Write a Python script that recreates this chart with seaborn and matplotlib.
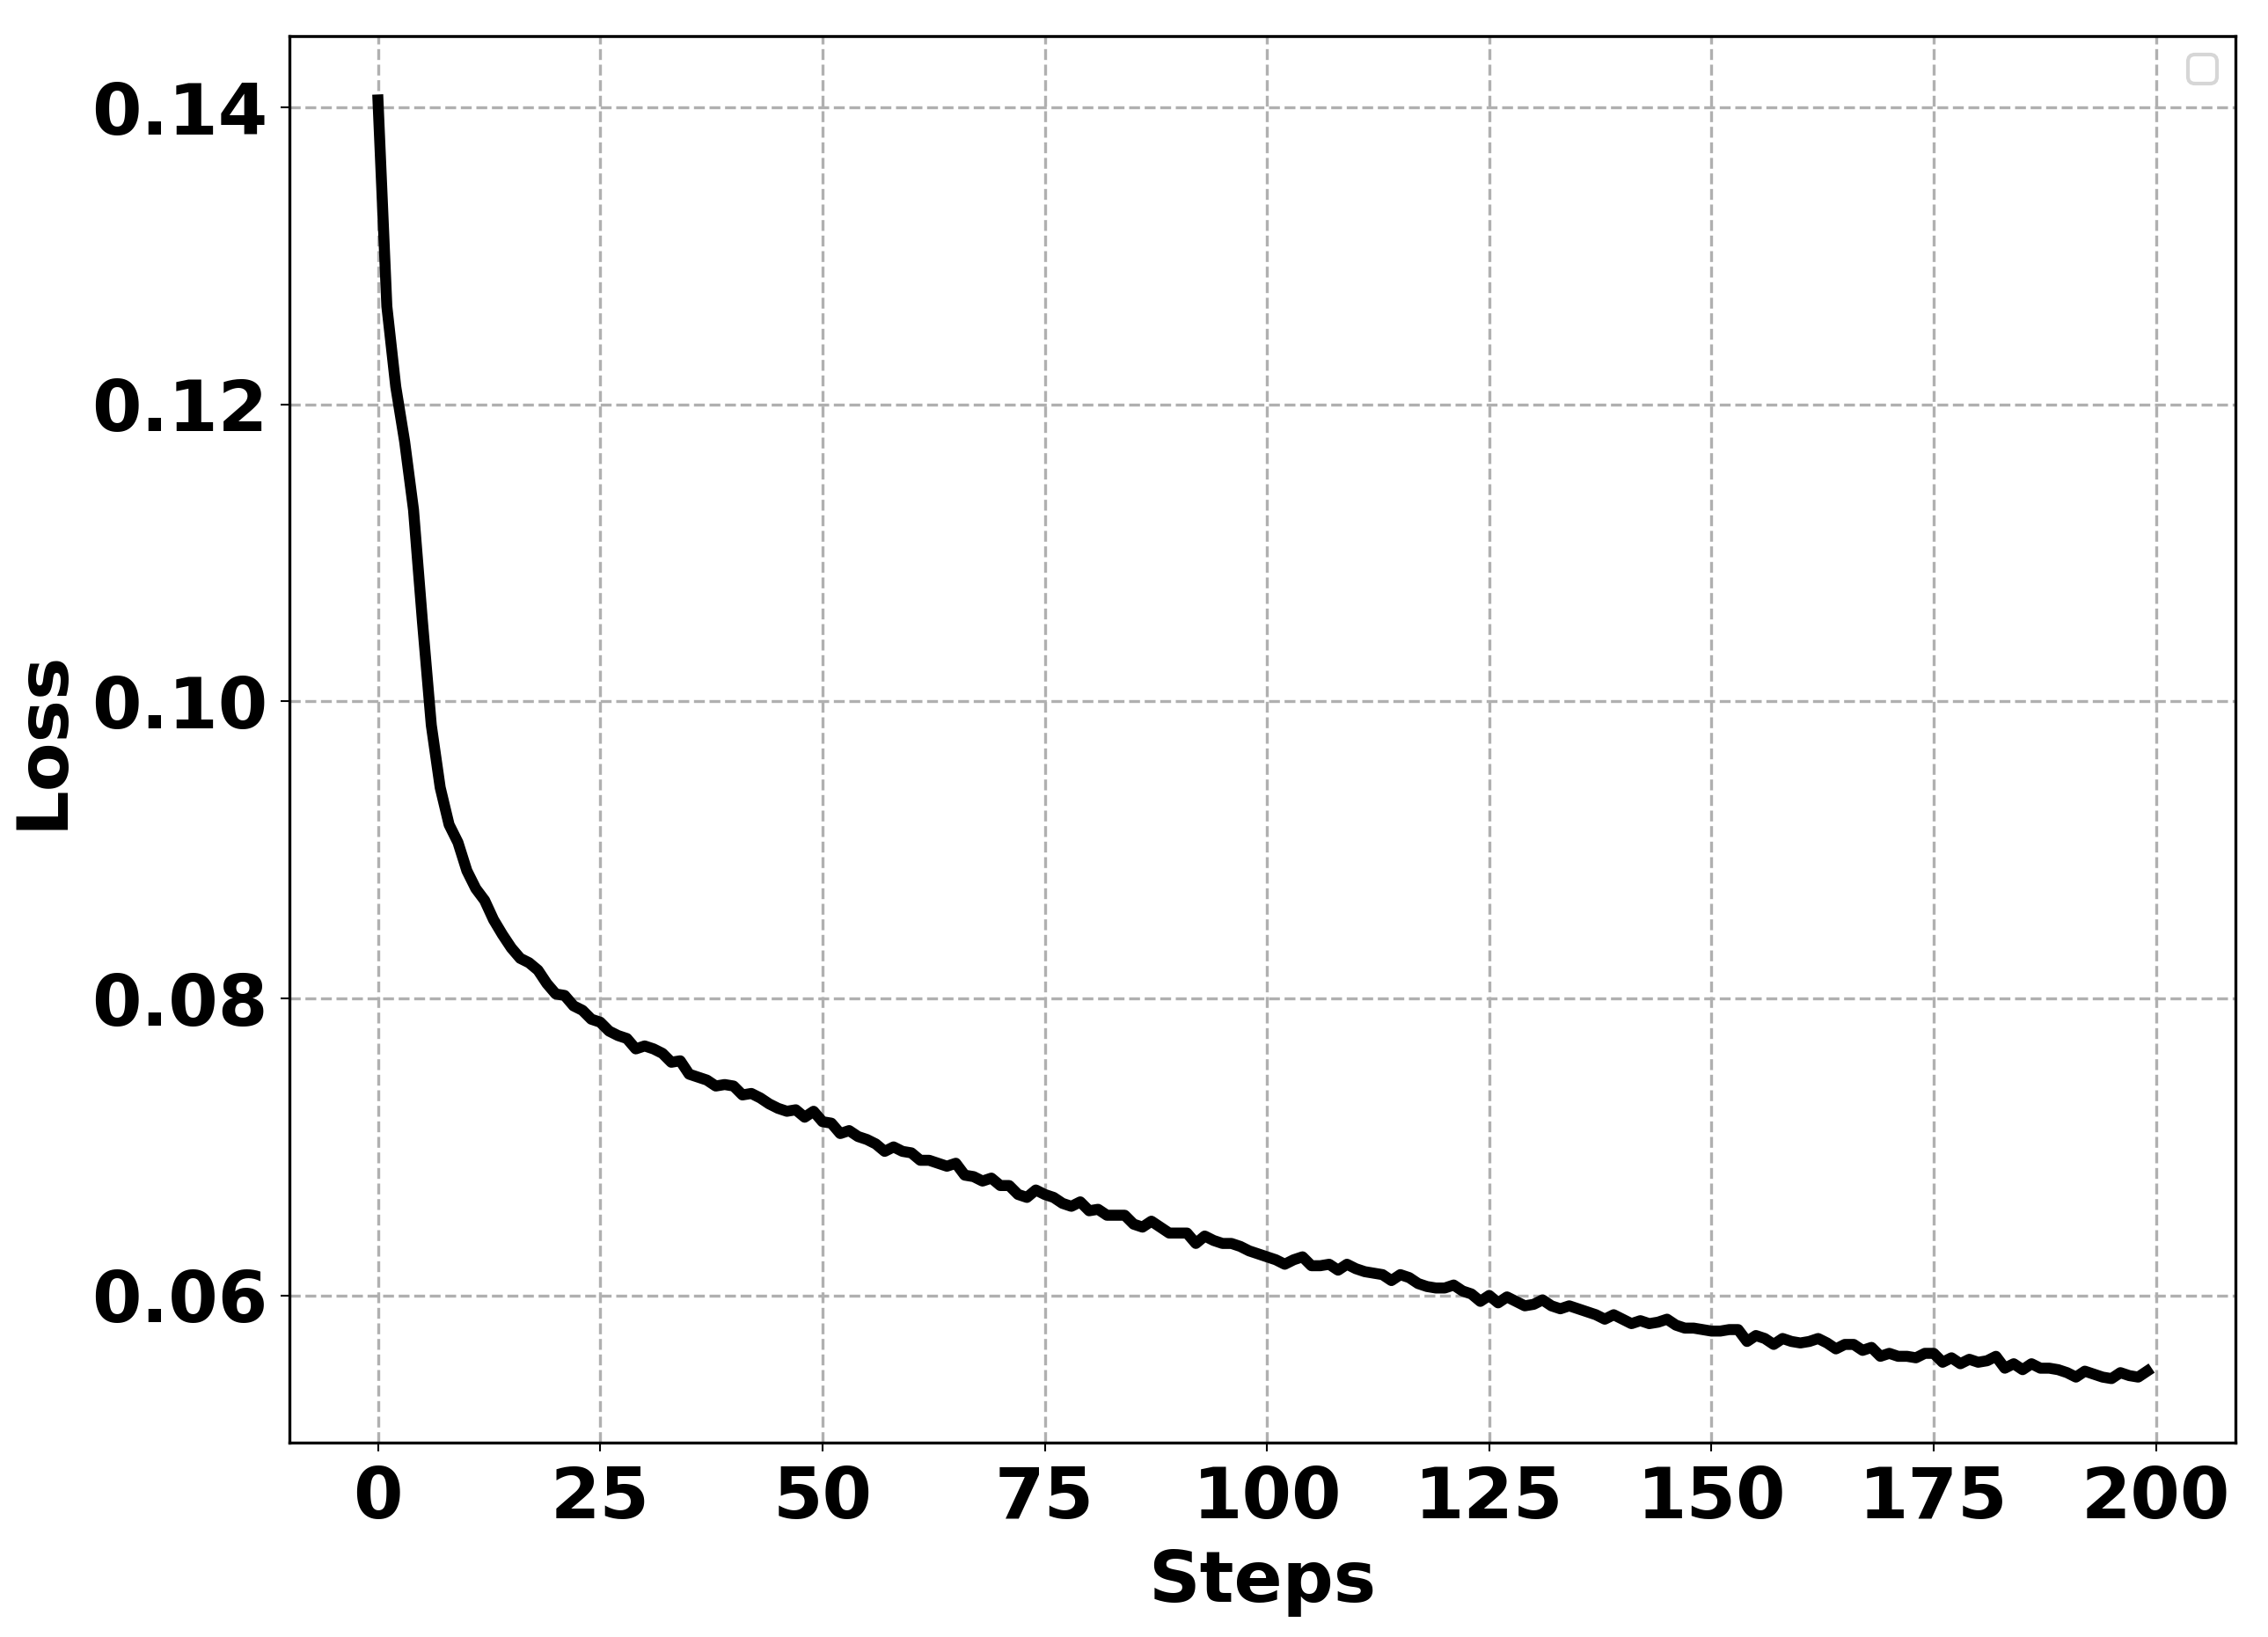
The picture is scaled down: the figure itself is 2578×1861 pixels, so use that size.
#Importing libraries
import numpy as np
import seaborn as sns
import matplotlib.pyplot as plt

#Training loss
steps = list(range(200))
loss = [
    0.1405, 0.1266, 0.1212, 0.1175, 0.1129, 0.1054, 0.0984, 0.0942, 0.0917, 0.0905,
    0.0886, 0.0874, 0.0866, 0.0853, 0.0843, 0.0834, 0.0827, 0.0824, 0.0819, 0.0810,
    0.0803, 0.0802, 0.0795, 0.0792, 0.0786, 0.0784, 0.0778, 0.0775, 0.0773, 0.0766,
    0.0768, 0.0766, 0.0763, 0.0757, 0.0758, 0.0749, 0.0747, 0.0745, 0.0741, 0.0742,
    0.0741, 0.0735, 0.0736, 0.0733, 0.0729, 0.0726, 0.0724, 0.0725, 0.0720, 0.0724,
    0.0717, 0.0716, 0.0709, 0.0711, 0.0707, 0.0705, 0.0702, 0.0697, 0.0700, 0.0697,
    0.0696, 0.0691, 0.0691, 0.0689, 0.0687, 0.0689, 0.0681, 0.0680, 0.0677, 0.0679,
    0.0674, 0.0674, 0.0668, 0.0666, 0.0671, 0.0668, 0.0666, 0.0662, 0.0660, 0.0663,
    0.0657, 0.0658, 0.0654, 0.0654, 0.0654, 0.0648, 0.0646, 0.0650, 0.0646, 0.0642,
    0.0642, 0.0642, 0.0635, 0.0640, 0.0637, 0.0635, 0.0635, 0.0633, 0.0630, 0.0628,
    0.0626, 0.0624, 0.0621, 0.0624, 0.0626, 0.0620, 0.0620, 0.0621, 0.0617, 0.0621,
    0.0618, 0.0616, 0.0615, 0.0614, 0.0610, 0.0614, 0.0612, 0.0608, 0.0606, 0.0605,
    0.0605, 0.0607, 0.0603, 0.0601, 0.0596, 0.0600, 0.0595, 0.0599, 0.0596, 0.0593,
    0.0594, 0.0597, 0.0593, 0.0591, 0.0593, 0.0591, 0.0589, 0.0587, 0.0584, 0.0587,
    0.0584, 0.0581, 0.0583, 0.0581, 0.0582, 0.0584, 0.0580, 0.0578, 0.0578, 0.0577,
    0.0576, 0.0576, 0.0577, 0.0577, 0.0569, 0.0573, 0.0571, 0.0567, 0.0571, 0.0569,
    0.0568, 0.0569, 0.0571, 0.0568, 0.0564, 0.0567, 0.0567, 0.0563, 0.0565, 0.0559,
    0.0561, 0.0559, 0.0559, 0.0558, 0.0561, 0.0561, 0.0555, 0.0558, 0.0554, 0.0557,
    0.0555, 0.0556, 0.0559, 0.0551, 0.0554, 0.0550, 0.0554, 0.0551, 0.0551, 0.0550,
    0.0548, 0.0545, 0.0549, 0.0547, 0.0545, 0.0544, 0.0548, 0.0546, 0.0545, 0.0549,
]

fig, ax = plt.subplots(figsize=(2579/300, 1861/300), dpi=300)
plt.subplots_adjust(left=0.1276, right=0.9853, top=0.978, bottom=0.1188)

sns.lineplot(x=steps, y=loss, color='black', linewidth=3, ax=ax)

ax.grid(True, linestyle='--', color='#b0b0b0', linewidth=0.8)
ax.set_xticks([0, 25, 50, 75, 100, 125, 150, 175, 200])
ax.set_yticks([0.06, 0.08, 0.10, 0.12, 0.14])
ax.tick_params(length=2.5, width=0.5)
for lbl in ax.get_xticklabels() + ax.get_yticklabels():
    lbl.set_fontsize(19.5)
    lbl.set_fontweight('bold')
ax.set_xlabel("Steps", fontsize=19.5, fontweight='bold')
ax.set_ylabel("Loss", fontsize=19.5, fontweight='bold')
ax.legend(loc='upper right')

fig.savefig('out.png', dpi=300)
